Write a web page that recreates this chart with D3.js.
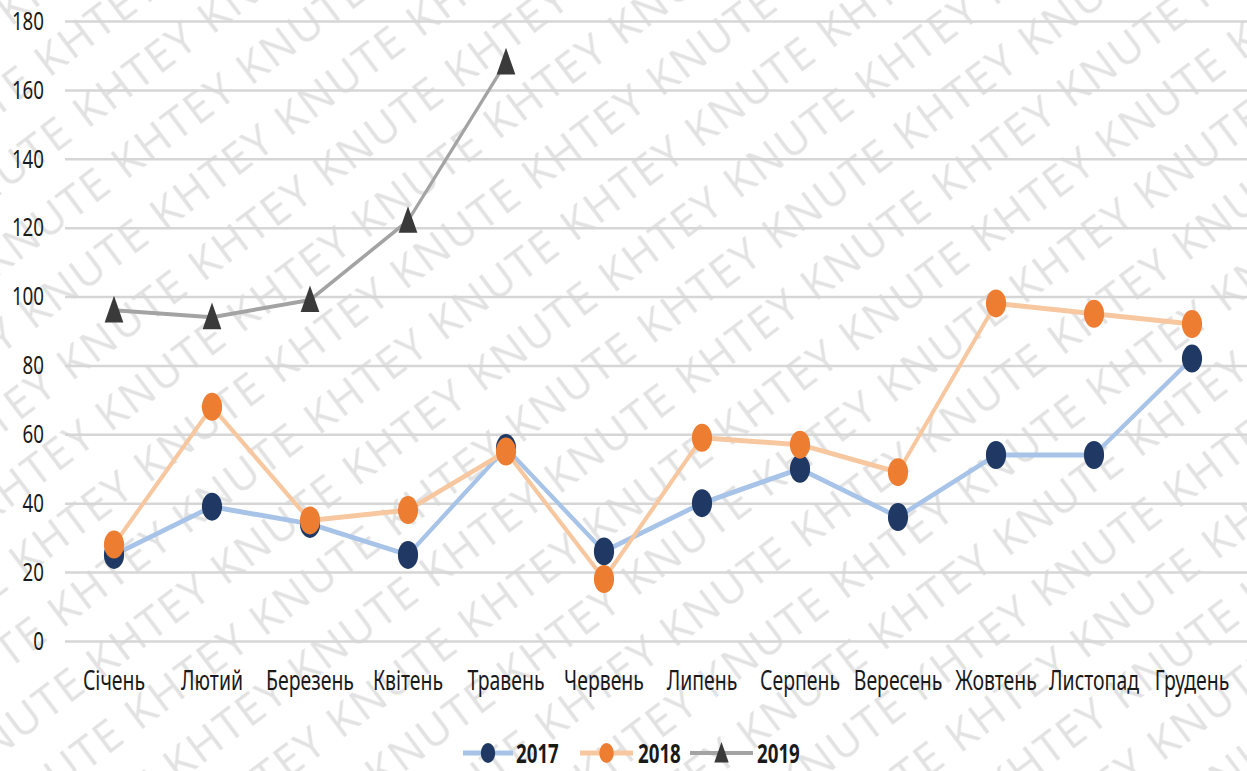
<!DOCTYPE html>
<html>
<head>
<meta charset="utf-8">
<script src="https://cdn.jsdelivr.net/npm/d3@7"></script>
<style>
  html, body { margin: 0; padding: 0; background: #ffffff; }
  svg { display: block; }
</style>
</head>
<body>
<svg id="chart" width="1247" height="771"></svg>
<script>
// Monthly values, three years
const months = ["Січень", "Лютий", "Березень", "Квітень", "Травень", "Червень",
                "Липень", "Серпень", "Вересень", "Жовтень", "Листопад", "Грудень"];
const values2017 = [25, 39, 34, 25, 56, 26, 40, 50, 36, 54, 54, 82];
const values2018 = [28, 68, 35, 38, 55, 18, 59, 57, 49, 98, 95, 92];
const values2019 = [96, 94, 99, 122, 168];
const yTicks = [0, 20, 40, 60, 80, 100, 120, 140, 160, 180];
const seriesNames = ["2017", "2018", "2019"];
const watermarkWord = "KHTEY KNUTE";

const W = 1247, H = 771;
const SX = 0.72;               // horizontal squeeze of the drawing
const VW = W / SX;             // virtual width inside the squeezed group

const svg = d3.select("#chart");

// Background watermark as a tiled pattern
const defs = svg.append("defs");
const probe = svg.append("text")
  .attr("font-family", "Open Sans, Noto Sans, sans-serif")
  .attr("font-size", 44)
  .attr("letter-spacing", 2)
  .text(watermarkWord + " ");
const tileW = probe.node().getComputedTextLength() + 14;
probe.remove();
const tileH = 64;
const pat = defs.append("pattern")
  .attr("id", "wm")
  .attr("patternUnits", "userSpaceOnUse")
  .attr("width", tileW)
  .attr("height", tileH)
  .attr("patternTransform", "translate(20,40) rotate(-37)");
pat.append("text")
  .attr("x", 0)
  .attr("y", 48)
  .attr("font-family", "Open Sans, Noto Sans, sans-serif")
  .attr("font-size", 44)
  .attr("letter-spacing", 2)
  .attr("fill", "#e2e2e2")
  .text(watermarkWord);
svg.append("rect").attr("width", W).attr("height", H).attr("fill", "url(#wm)");

const g = svg.append("g").attr("transform", `scale(${SX},1)`);

const plotLeft = 65 / SX, plotRight = 1241 / SX;
const x = d3.scaleBand().domain(months).range([plotLeft, plotRight]);
const cx = m => x(m) + x.bandwidth() / 2;
const y = d3.scaleLinear().domain([0, 180]).range([641, 21]);

// Gridlines and value labels
const yAxis = d3.axisLeft(y).tickValues(yTicks).tickSize(-(VW - plotLeft)).tickPadding(0);
const ya = g.append("g").attr("transform", `translate(${plotLeft},0)`).call(yAxis);
ya.select(".domain").remove();
ya.selectAll(".tick line").attr("stroke", "#d6d6d6").attr("stroke-width", 2.5);
ya.selectAll(".tick text")
  .attr("x", 44 / SX - plotLeft)
  .attr("text-anchor", "end")
  .attr("font-family", "Noto Sans, sans-serif")
  .attr("font-size", 26)
  .attr("fill", "#1a1a1a");

// Category axis
const xAxis = d3.axisBottom(x).tickSize(0).tickPadding(0);
const xa = g.append("g").attr("transform", `translate(0,671)`).call(xAxis);
xa.select(".domain").remove();
xa.selectAll(".tick text")
  .attr("dy", "0.71em")
  .attr("font-family", "Noto Sans, sans-serif")
  .attr("font-size", 27)
  .attr("fill", "#1a1a1a");

const lineGen = d3.line().x((d, i) => cx(months[i])).y(d => y(d));
const triPath = s => `M0,${-s * 1.2}L${s},${s * 0.85}L${-s},${s * 0.85}Z`;

const styles = [
  { data: values2017, line: "#a8c3e8", marker: "#1f3864", width: 5, shape: "circle" },
  { data: values2018, line: "#f7c7a0", marker: "#ed7d31", width: 5, shape: "circle" },
  { data: values2019, line: "#a3a3a3", marker: "#3a3a3a", width: 4, shape: "triangle" }
];

styles.forEach(s => {
  const sg = g.append("g");
  sg.append("path")
    .datum(s.data)
    .attr("d", lineGen)
    .attr("fill", "none")
    .attr("stroke", s.line)
    .attr("stroke-width", s.width)
    .attr("stroke-linejoin", "round");
  if (s.shape === "circle") {
    sg.selectAll("circle").data(s.data).join("circle")
      .attr("cx", (d, i) => cx(months[i]))
      .attr("cy", d => y(d))
      .attr("r", 14)
      .attr("fill", s.marker);
  } else {
    sg.selectAll("path.mk").data(s.data).join("path")
      .attr("class", "mk")
      .attr("transform", (d, i) => `translate(${cx(months[i])},${y(d) + 1})`)
      .attr("d", triPath(13))
      .attr("fill", s.marker);
  }
});

// Legend
const legend = g.append("g");
const legendItems = [
  { name: seriesNames[0], x0: 463, x1: 513, tx: 516 },
  { name: seriesNames[1], x0: 580, x1: 633, tx: 638 },
  { name: seriesNames[2], x0: 690, x1: 753, tx: 757 }
];
legendItems.forEach((it, i) => {
  const s = styles[i];
  const ly = 753;
  const a = it.x0 / SX, b = it.x1 / SX, m = (a + b) / 2;
  legend.append("line")
    .attr("x1", a).attr("x2", b).attr("y1", ly).attr("y2", ly)
    .attr("stroke", s.line).attr("stroke-width", s.width);
  if (s.shape === "circle") {
    legend.append("circle").attr("cx", m).attr("cy", ly).attr("r", 10).attr("fill", s.marker);
  } else {
    legend.append("path").attr("transform", `translate(${m},${ly + 1})`)
      .attr("d", triPath(10)).attr("fill", s.marker);
  }
  legend.append("text")
    .attr("x", it.tx / SX)
    .attr("y", 763)
    .attr("font-family", "Noto Sans, sans-serif")
    .attr("font-weight", "bold")
    .attr("font-size", 26)
    .attr("fill", "#1a1a1a")
    .text(it.name);
});
</script>
</body>
</html>
